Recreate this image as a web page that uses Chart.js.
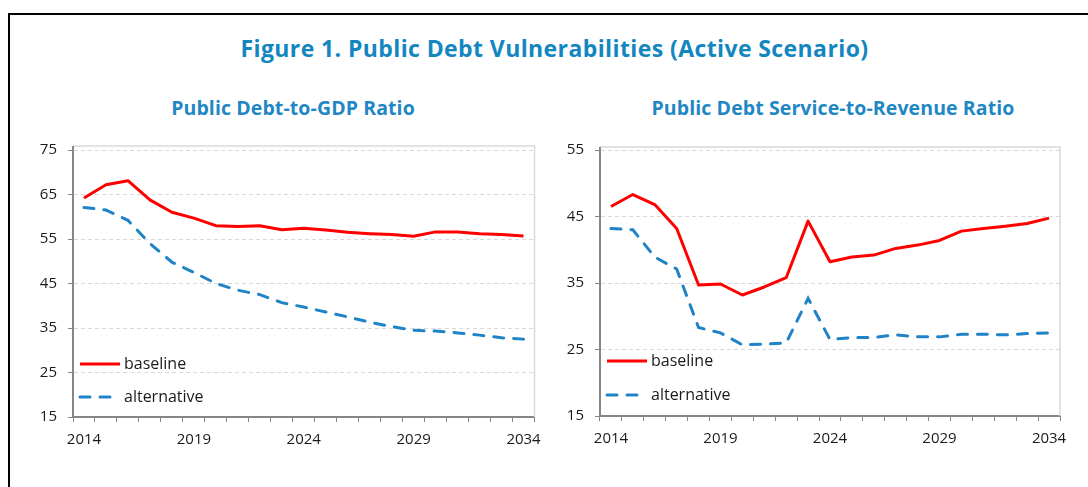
<!DOCTYPE html>
<html>
<head>
<meta charset="utf-8">
<script src="https://cdn.jsdelivr.net/npm/chart.js@4.4.1/dist/chart.umd.min.js"></script>
<style>
  html, body { margin: 0; padding: 0; background: #fff; overflow: hidden; }
  body { width: 1088px; height: 487px; position: relative; }
  .frame { position: absolute; left: 8px; top: 13px; width: 1200px; height: 600px;
           border-top: 2px solid #000; border-left: 2px solid #000; }
  .title { position: absolute; top: 33px; left: 0; width: 1109px; text-align: center;
           font: bold 23px "Open Sans", sans-serif; line-height: 30px; color: #1286bf; letter-spacing: 0.4px; }
  .sub { position: absolute; top: 95px; width: 420px; text-align: center;
         font: bold 19.5px "Open Sans", sans-serif; line-height: 26px; color: #1f87c4; letter-spacing: 0.1px; }
  .box { position: absolute; }
</style>
</head>
<body>
<div class="frame"></div>
<div class="title">Figure 1. Public Debt Vulnerabilities (Active Scenario)</div>
<div class="sub" style="left:83px">Public Debt-to-GDP Ratio</div>
<div class="sub" style="left:623px">Public Debt Service-to-Revenue Ratio</div>
<div class="box" style="left:20px; top:130px; width:530px; height:330px"><canvas id="gdpChart"></canvas></div>
<div class="box" style="left:540px; top:130px; width:540px; height:330px"><canvas id="revChart"></canvas></div>

<script>
const years = ['2014', '2015', '2016', '2017', '2018', '2019', '2020', '2021', '2022', '2023', '2024',
               '2025', '2026', '2027', '2028', '2029', '2030', '2031', '2032', '2033', '2034'];
const shownYears = ['2014', '2019', '2024', '2029', '2034'];

const debtGdpBaseline = [64.2, 67.2, 68.1, 63.8, 61.0, 59.7, 58.0, 57.8, 58.0, 57.1, 57.4,
                         57.0, 56.5, 56.2, 56.0, 55.6, 56.6, 56.6, 56.2, 56.0, 55.7];
const debtGdpAlternative = [62.1, 61.5, 59.2, 54.0, 49.8, 47.5, 45.0, 43.5, 42.5, 40.7, 39.7,
                            38.6, 37.5, 36.3, 35.3, 34.5, 34.3, 33.9, 33.4, 32.8, 32.5];

const serviceRevBaseline = [46.5, 48.3, 46.8, 43.2, 34.7, 34.85, 33.2, 34.4, 35.8, 44.3, 38.2,
                            38.9, 39.2, 40.2, 40.7, 41.4, 42.8, 43.2, 43.55, 43.95, 44.75];
const serviceRevAlternative = [43.2, 43.0, 38.9, 37.1, 28.3, 27.5, 25.7, 25.8, 26.0, 32.7, 26.5,
                               26.8, 26.8, 27.2, 26.9, 26.9, 27.3, 27.3, 27.2, 27.4, 27.5];

const seriesNames = ['baseline', 'alternative'];

const axisGray = '#868686';
const gridGray = '#d9d9d9';
const textColor = '#1a1a1a';
const tickFont = { family: '"Open Sans", sans-serif', size: 15 };

// light plot-area frame (top + right) and the bit of y axis above the top gridline
const plotFrame = {
  id: 'plotFrame',
  beforeDatasetsDraw(chart, args, opts) {
    const { ctx, chartArea: a } = chart;
    const top = a.top - opts.lift;
    ctx.save();
    ctx.lineWidth = 1.5;
    ctx.strokeStyle = gridGray;
    ctx.beginPath();
    ctx.moveTo(a.left, top);
    ctx.lineTo(a.right, top);
    ctx.lineTo(a.right, a.bottom);
    ctx.stroke();
    ctx.strokeStyle = axisGray;
    ctx.lineWidth = 2;
    ctx.beginPath();
    ctx.moveTo(a.left, top);
    ctx.lineTo(a.left, a.top);
    ctx.stroke();
    ctx.restore();
  }
};

// legend drawn inside the plot, bottom-left corner
const insideLegend = {
  id: 'insideLegend',
  afterDatasetsDraw(chart, args, opts) {
    const { ctx, chartArea: a } = chart;
    ctx.save();
    chart.data.datasets.forEach((ds, i) => {
      const y = a.bottom - opts.rows[i];
      const x0 = a.left + opts.x;
      ctx.strokeStyle = ds.borderColor;
      ctx.lineWidth = ds.borderWidth;
      ctx.lineCap = ds.borderCapStyle || 'butt';
      ctx.setLineDash(ds.borderDash || []);
      ctx.beginPath();
      ctx.moveTo(x0, y);
      ctx.lineTo(x0 + 40, y);
      ctx.stroke();
      ctx.setLineDash([]);
      ctx.fillStyle = textColor;
      ctx.font = '16px "Open Sans", sans-serif';
      ctx.textBaseline = 'middle';
      ctx.fillText(ds.label, x0 + 44, y);
    });
    ctx.restore();
  }
};

function makeChart(id, baseline, alternative, yMax, yAxisWidth, pad, legendRows, lift) {
  return new Chart(document.getElementById(id), {
    type: 'line',
    data: {
      labels: years,
      datasets: [{
        label: seriesNames[0],
        data: baseline,
        borderColor: '#ff0000',
        borderWidth: 3,
        borderJoinStyle: 'round',
        pointRadius: 0,
        tension: 0
      }, {
        label: seriesNames[1],
        data: alternative,
        borderColor: '#1f83c6',
        borderWidth: 3,
        borderDash: [10, 10],
        borderCapStyle: 'round',
        pointRadius: 0,
        tension: 0
      }]
    },
    options: {
      responsive: true,
      maintainAspectRatio: false,
      animation: false,
      layout: { padding: pad },
      plugins: {
        legend: { display: false },
        tooltip: { enabled: false },
        plotFrame: { lift: lift },
        insideLegend: { x: 7, rows: legendRows }
      },
      scales: {
        x: {
          offset: true,
          grid: { drawOnChartArea: false, offset: true, tickLength: 5, color: axisGray, tickColor: axisGray, tickBorderDash: [] },
          border: { color: axisGray, width: 2 },
          ticks: {
            autoSkip: false, maxRotation: 0, padding: 9, color: textColor, font: tickFont,
            callback: function (value) {
              const lab = this.getLabelForValue(value);
              return shownYears.includes(lab) ? lab : '';
            }
          },
          afterFit: (scale) => { scale.height = pad.xAxis; }
        },
        y: {
          min: 15,
          max: yMax,
          grid: { color: gridGray, lineWidth: 1, tickLength: 5, tickColor: axisGray, tickBorderDash: [] },
          border: { color: axisGray, width: 2, dash: [4, 3] },
          ticks: { stepSize: 10, padding: 11, color: textColor, font: tickFont },
          afterFit: (scale) => { scale.width = yAxisWidth; }
        }
      }
    },
    plugins: [plotFrame, insideLegend]
  });
}

makeChart('gdpChart', debtGdpBaseline, debtGdpAlternative, 75, 53,
  { top: 19, right: 13, bottom: 0, left: 0, xAxis: 43 }, [53, 20], 4);
makeChart('revChart', serviceRevBaseline, serviceRevAlternative, 55, 60,
  { top: 17, right: 20, bottom: 0, left: 0, xAxis: 44 }, [55, 21], 3);
</script>
</body>
</html>
